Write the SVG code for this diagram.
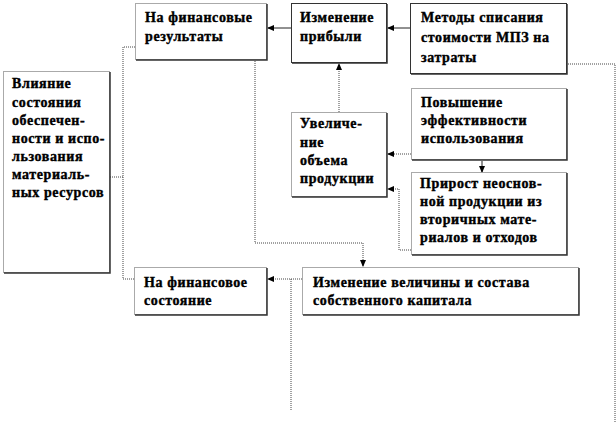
<svg xmlns="http://www.w3.org/2000/svg" width="616" height="425" viewBox="0 0 616 425">
<style>
.box{fill:#fff;stroke:#555;stroke-width:1;stroke-dasharray:1 1}
.sbox{fill:#fff;stroke:#333;stroke-width:1}
.sh{fill:none;stroke:#333;stroke-width:1.5}
.t{font-family:'Liberation Serif','Times New Roman',serif;font-weight:700;font-size:14px;letter-spacing:0.6px;fill:#000;stroke:#000;stroke-width:0.4}
.dot{fill:none;stroke:#444;stroke-width:1;stroke-dasharray:1 1}
.sol{fill:none;stroke:#222;stroke-width:1}
</style>
<defs>
<marker id="ah" markerWidth="7" markerHeight="6" refX="6" refY="3" orient="auto" markerUnits="userSpaceOnUse">
<path d="M0,0 L7,3 L0,6 z" fill="#000"/>
</marker>
</defs>
<rect width="616" height="425" fill="#fff"/>
<g id="connectors">
<path class="sol" d="M410,28 H388" marker-end="url(#ah)"/>
<path class="sol" d="M291,28 H268" marker-end="url(#ah)"/>
<path class="dot" d="M339,112 V64" marker-end="url(#ah)"/>
<path class="dot" d="M411,154 H388" marker-end="url(#ah)"/>
<path class="sol" d="M482,161 V172" marker-end="url(#ah)"/>
<path class="dot" d="M411,250 H399 V189 H388" marker-end="url(#ah)"/>
<path class="dot" d="M110,177 H123"/>
<path class="dot" d="M135,47 H123 V279 H134"/>
<path class="dot" d="M255,61 V243 H363 V266" marker-end="url(#ah)"/>
<path class="dot" d="M302,279 H268" marker-end="url(#ah)"/>
<path class="dot" d="M291,279 V410"/>
<path class="dot" d="M568,64 H615 V423"/>
</g>
<g id="n-fin-res">
<rect class="box" x="135.5" y="3.5" width="131" height="56"/>
<path class="sh" d="M267,4 V60 H136"/>
<text class="t" x="145" y="22">На финансовые</text>
<text class="t" x="145" y="41">результаты</text>
</g>
<g id="n-profit">
<rect class="sbox" x="291.5" y="3.5" width="95" height="59"/>
<path class="sh" d="M387,4 V63 H292"/>
<text class="t" x="300" y="22">Изменение</text>
<text class="t" x="300" y="41">прибыли</text>
</g>
<g id="n-methods">
<rect class="sbox" x="410.5" y="3.5" width="156" height="70"/>
<path class="sh" d="M567,4 V74 H411"/>
<text class="t" x="421" y="22">Методы списания</text>
<text class="t" x="421" y="42">стоимости МПЗ на</text>
<text class="t" x="421" y="62">затраты</text>
</g>
<g id="n-efficiency">
<rect class="box" x="411.5" y="88.5" width="155" height="71"/>
<path class="sh" d="M567,89 V160 H412"/>
<text class="t" x="421" y="107">Повышение</text>
<text class="t" x="421" y="125">эффективности</text>
<text class="t" x="421" y="143">использования</text>
</g>
<g id="n-increase">
<rect class="box" x="291.5" y="112.5" width="95" height="84"/>
<path class="sh" d="M387,113 V197 H292"/>
<text class="t" x="300" y="128">Увеличе-</text>
<text class="t" x="300" y="147">ние</text>
<text class="t" x="300" y="165">объема</text>
<text class="t" x="300" y="183">продукции</text>
</g>
<g id="n-growth">
<rect class="box" x="411.5" y="172.5" width="155" height="82"/>
<path class="sh" d="M567,173 V255 H412"/>
<text class="t" x="420" y="188">Прирост неоснов-</text>
<text class="t" x="420" y="206">ной продукции из</text>
<text class="t" x="420" y="224">вторичных мате-</text>
<text class="t" x="420" y="242">риалов и отходов</text>
</g>
<g id="n-influence">
<rect class="box" x="3.5" y="71.5" width="106" height="201"/>
<path class="sh" d="M110,72 V273 H4"/>
<text class="t" x="12" y="88">Влияние</text>
<text class="t" x="12" y="107">состояния</text>
<text class="t" x="12" y="125">обеспечен-</text>
<text class="t" x="12" y="143">ности и испо-</text>
<text class="t" x="12" y="161">льзования</text>
<text class="t" x="12" y="179">материаль-</text>
<text class="t" x="12" y="197">ных ресурсов</text>
</g>
<g id="n-fin-state">
<rect class="box" x="134.5" y="267.5" width="132" height="47"/>
<path class="sh" d="M267,268 V315 H135"/>
<text class="t" x="144" y="287">На финансовое</text>
<text class="t" x="144" y="305">состояние</text>
</g>
<g id="n-capital">
<rect class="box" x="302.5" y="267.5" width="276" height="47"/>
<path class="sh" d="M579,268 V315 H303"/>
<text class="t" x="313" y="287">Изменение величины и состава</text>
<text class="t" x="313" y="305">собственного капитала</text>
</g>
</svg>
